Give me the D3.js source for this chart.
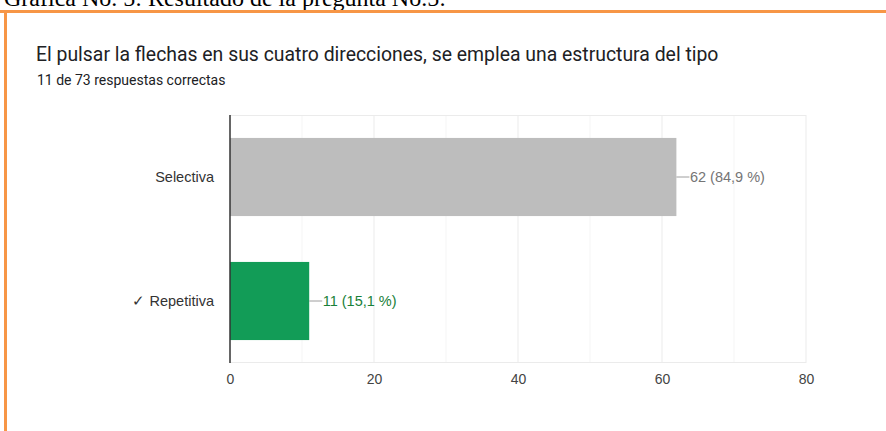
<!DOCTYPE html>
<html><head><meta charset="utf-8">
<script src="https://cdn.jsdelivr.net/npm/d3@7"></script>
<style>
html,body{margin:0;padding:0;background:#fff;overflow:hidden;}
svg{display:block;}
</style></head>
<body>
<svg id="c" width="886" height="431"></svg>
<script>
const categories = ["Selectiva", "✓ Repetitiva"];
const counts = [62, 11];
const percents = ["84,9 %", "15,1 %"];
const barColors = ["#bdbdbd", "#129c57"];
const labelColors = ["#757575", "#188038"];
const tickValues = [0, 20, 40, 60, 80];
const minorTicks = [10, 30, 50, 70];

const svg = d3.select("#c");

// caption text above (cut off by the page edge)
svg.append("text").attr("x", 4).attr("y", 6)
  .attr("font-family", "'Liberation Serif', 'Times New Roman', serif")
  .attr("font-size", 24).attr("fill", "#000")
  .text("Grafica No. 5: Resultado de la pregunta No.5:");

// orange frame
svg.append("rect").attr("x", 0).attr("y", 10).attr("width", 886).attr("height", 3).attr("fill", "#f79646");
svg.append("rect").attr("x", 4).attr("y", 10).attr("width", 3).attr("height", 421).attr("fill", "#f79646");

svg.append("text").attr("x", 36).attr("y", 61)
  .attr("font-family", "Roboto, sans-serif").attr("font-size", 19.4).attr("fill", "#202124")
  .text("El pulsar la flechas en sus cuatro direcciones, se emplea una estructura del tipo");
svg.append("text").attr("x", 37).attr("y", 85)
  .attr("font-family", "Roboto, sans-serif").attr("font-size", 14).attr("fill", "#202124")
  .text("11 de 73 respuestas correctas");

const pLeft = 230, pRight = 806, pTop = 115, pBottom = 363;
const x = d3.scaleLinear().domain([0, 80]).range([pLeft, pRight]);
const y = d3.scaleBand().domain(categories).range([pTop, pBottom]).paddingInner(0.37).paddingOuter(0.185);

// minor grid
svg.append("g").selectAll("line").data(minorTicks).join("line")
  .attr("x1", d => x(d)).attr("x2", d => x(d)).attr("y1", pTop).attr("y2", pBottom)
  .attr("stroke", "#f5f5f5").attr("stroke-width", 1);
// major grid
svg.append("g").selectAll("line").data(tickValues.slice(1)).join("line")
  .attr("x1", d => x(d)).attr("x2", d => x(d)).attr("y1", pTop).attr("y2", pBottom)
  .attr("stroke", "#ebebeb").attr("stroke-width", 1);
svg.append("line").attr("x1", pLeft).attr("x2", pRight).attr("y1", pTop + 0.5).attr("y2", pTop + 0.5).attr("stroke", "#ebebeb");
svg.append("line").attr("x1", pLeft).attr("x2", pRight).attr("y1", pBottom - 0.5).attr("y2", pBottom - 0.5).attr("stroke", "#ebebeb");

// bars
svg.append("g").selectAll("rect").data(counts).join("rect")
  .attr("x", x(0)).attr("y", (d, i) => y(categories[i]))
  .attr("width", d => x(d) - x(0)).attr("height", y.bandwidth())
  .attr("fill", (d, i) => barColors[i]);

// value labels with leader
const lg = svg.append("g").selectAll("g").data(counts).join("g");
lg.append("line")
  .attr("x1", d => x(d)).attr("x2", d => x(d) + 13)
  .attr("y1", (d, i) => y(categories[i]) + y.bandwidth() / 2)
  .attr("y2", (d, i) => y(categories[i]) + y.bandwidth() / 2)
  .attr("stroke", "#9e9e9e").attr("stroke-width", 1);
lg.append("text")
  .attr("x", d => x(d) + 13.5)
  .attr("y", (d, i) => y(categories[i]) + y.bandwidth() / 2)
  .attr("dy", "0.35em")
  .attr("font-family", "'Liberation Sans', Arial, sans-serif").attr("font-size", 14.5)
  .attr("fill", (d, i) => labelColors[i])
  .text((d, i) => `${d} (${percents[i]})`);

// baseline axis
svg.append("line").attr("x1", x(0)).attr("x2", x(0)).attr("y1", pTop).attr("y2", pBottom)
  .attr("stroke", "#333").attr("stroke-width", 1.5);

// category labels
const yAxis = d3.axisLeft(y).tickSize(0).tickPadding(16);
const ya = svg.append("g").attr("transform", `translate(${pLeft},0)`).call(yAxis);
ya.select(".domain").remove();
ya.selectAll("text").attr("font-family", "'Liberation Sans', Arial, sans-serif").attr("font-size", 14.5).attr("fill", "#333");

// x axis labels
const xAxis = d3.axisBottom(x).tickValues(tickValues).tickSize(0).tickPadding(11);
const xa = svg.append("g").attr("transform", `translate(0,${pBottom})`).call(xAxis);
xa.select(".domain").remove();
xa.selectAll("text").attr("font-family", "'Liberation Sans', Arial, sans-serif").attr("font-size", 14).attr("fill", "#444");
</script>
</body></html>
